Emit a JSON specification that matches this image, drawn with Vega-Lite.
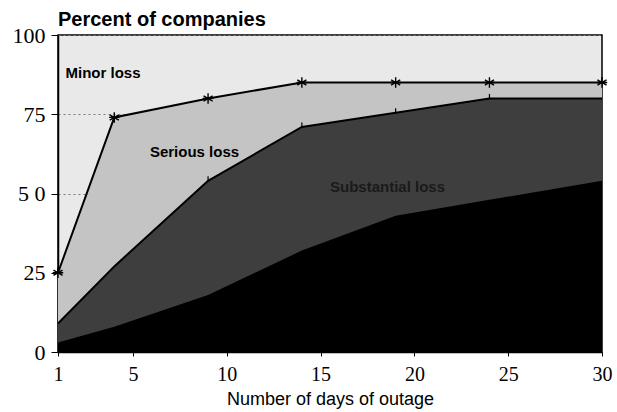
{
  "$schema": "https://vega.github.io/schema/vega-lite/v6.json",
  "width": 544,
  "height": 317,
  "autosize": {"type": "none"},
  "padding": {"left": 58, "top": 35, "right": 15, "bottom": 60},
  "background": "white",
  "config": {
    "view": {"stroke": "black", "strokeWidth": 1.5, "fill": "#e9e9e9"},
    "axis": {
      "domainColor": "black",
      "domainWidth": 1.5,
      "tickColor": "black",
      "labelColor": "black",
      "titleColor": "black",
      "labelFont": "Liberation Serif",
      "titleFont": "Liberation Sans"
    },
    "axisY": {
      "title": null,
      "labelFontSize": 22,
      "labelPadding": 6,
      "tickSize": 7,
      "grid": true,
      "gridColor": "#7a7a7a",
      "gridDash": [2, 3],
      "gridWidth": 1,
      "labelExpr": "datum.value == 50 ? '5 0' : datum.label"
    }
  },
  "title": {
    "text": "Percent of companies",
    "anchor": "start",
    "frame": "group",
    "font": "Liberation Sans",
    "fontSize": 20,
    "fontWeight": "bold",
    "color": "black",
    "offset": -6
  },
  "datasets": {
    "outage": [
      {"day": 1, "upper": 25, "middle": 9, "lower": 3},
      {"day": 4, "upper": 74, "middle": 27, "lower": 8},
      {"day": 9, "upper": 80, "middle": 54, "lower": 18},
      {"day": 14, "upper": 85, "middle": 71, "lower": 32},
      {"day": 19, "upper": 85, "middle": 75.5, "lower": 43},
      {"day": 24, "upper": 85, "middle": 80, "lower": 48},
      {"day": 30, "upper": 85, "middle": 80, "lower": 54}
    ],
    "labels": [
      {"day": 1.4, "pct": 88, "label": "Minor loss", "kind": "light"},
      {"day": 5.9, "pct": 63, "label": "Serious loss", "kind": "light"},
      {"day": 15.5, "pct": 52, "label": "Substantial loss", "kind": "dark"}
    ]
  },
  "encoding": {
    "x": {
      "field": "day",
      "type": "quantitative",
      "scale": {"domain": [1, 30], "nice": false, "zero": false},
      "axis": {
        "values": [1, 5, 10, 15, 20, 25, 30],
        "title": "Number of days of outage",
        "titleFontSize": 18,
        "titleFontWeight": "normal",
        "titlePadding": 6,
        "labelFontSize": 20,
        "labelPadding": 8,
        "tickSize": 4,
        "grid": false,
        "labelFlush": false
      }
    }
  },
  "layer": [
    {
      "data": {"name": "outage"},
      "mark": {"type": "area", "color": "#c4c4c4", "interpolate": "linear"},
      "encoding": {
        "y": {
          "field": "upper",
          "type": "quantitative",
          "scale": {"domain": [0, 100], "nice": false},
          "title": null,
          "axis": {"values": [0, 25, 50, 75, 100]}
        },
        "y2": {"datum": 0}
      }
    },
    {
      "data": {"name": "outage"},
      "mark": {"type": "area", "color": "#3e3e3e"},
      "encoding": {
        "y": {"field": "middle", "type": "quantitative", "title": null, "axis": {"values": [0, 25, 50, 75, 100]}},
        "y2": {"datum": 0}
      }
    },
    {
      "data": {"name": "outage"},
      "mark": {"type": "area", "color": "#000000"},
      "encoding": {
        "y": {"field": "lower", "type": "quantitative", "title": null, "axis": {"values": [0, 25, 50, 75, 100]}},
        "y2": {"datum": 0}
      }
    },
    {
      "data": {"name": "outage"},
      "mark": {"type": "line", "color": "#000000", "strokeWidth": 2},
      "encoding": {
        "y": {"field": "middle", "type": "quantitative", "title": null, "axis": {"values": [0, 25, 50, 75, 100]}}
      }
    },
    {
      "data": {"name": "outage"},
      "mark": {"type": "line", "color": "#000000", "strokeWidth": 2},
      "encoding": {
        "y": {"field": "upper", "type": "quantitative", "title": null, "axis": {"values": [0, 25, 50, 75, 100]}}
      }
    },
    {
      "data": {"name": "outage"},
      "mark": {
        "type": "point",
        "shape": "M0,-1L0,1M-0.87,-0.5L0.87,0.5M-0.87,0.5L0.87,-0.5M-1,0L1,0",
        "filled": false,
        "stroke": "black",
        "strokeWidth": 1.4,
        "size": 110,
        "opacity": 1
      },
      "encoding": {
        "y": {"field": "upper", "type": "quantitative", "title": null, "axis": {"values": [0, 25, 50, 75, 100]}}
      }
    },
    {
      "data": {"name": "outage"},
      "transform": [{"filter": "datum.day >= 9 && datum.day < 30"}],
      "mark": {
        "type": "point",
        "shape": "M0,-1L0,0.2",
        "filled": false,
        "stroke": "black",
        "strokeWidth": 1.2,
        "size": 80,
        "opacity": 1
      },
      "encoding": {
        "y": {"field": "middle", "type": "quantitative", "title": null, "axis": {"values": [0, 25, 50, 75, 100]}}
      }
    },
    {
      "data": {"name": "labels"},
      "mark": {
        "type": "text",
        "align": "left",
        "baseline": "middle",
        "font": "Liberation Sans",
        "fontWeight": "bold",
        "fontSize": 15
      },
      "encoding": {
        "y": {"field": "pct", "type": "quantitative", "title": null, "axis": {"values": [0, 25, 50, 75, 100]}},
        "text": {"field": "label"},
        "color": {
          "field": "kind",
          "type": "nominal",
          "scale": {"domain": ["light", "dark"], "range": ["#000000", "#1a1a1a"]},
          "legend": null
        }
      }
    }
  ]
}
